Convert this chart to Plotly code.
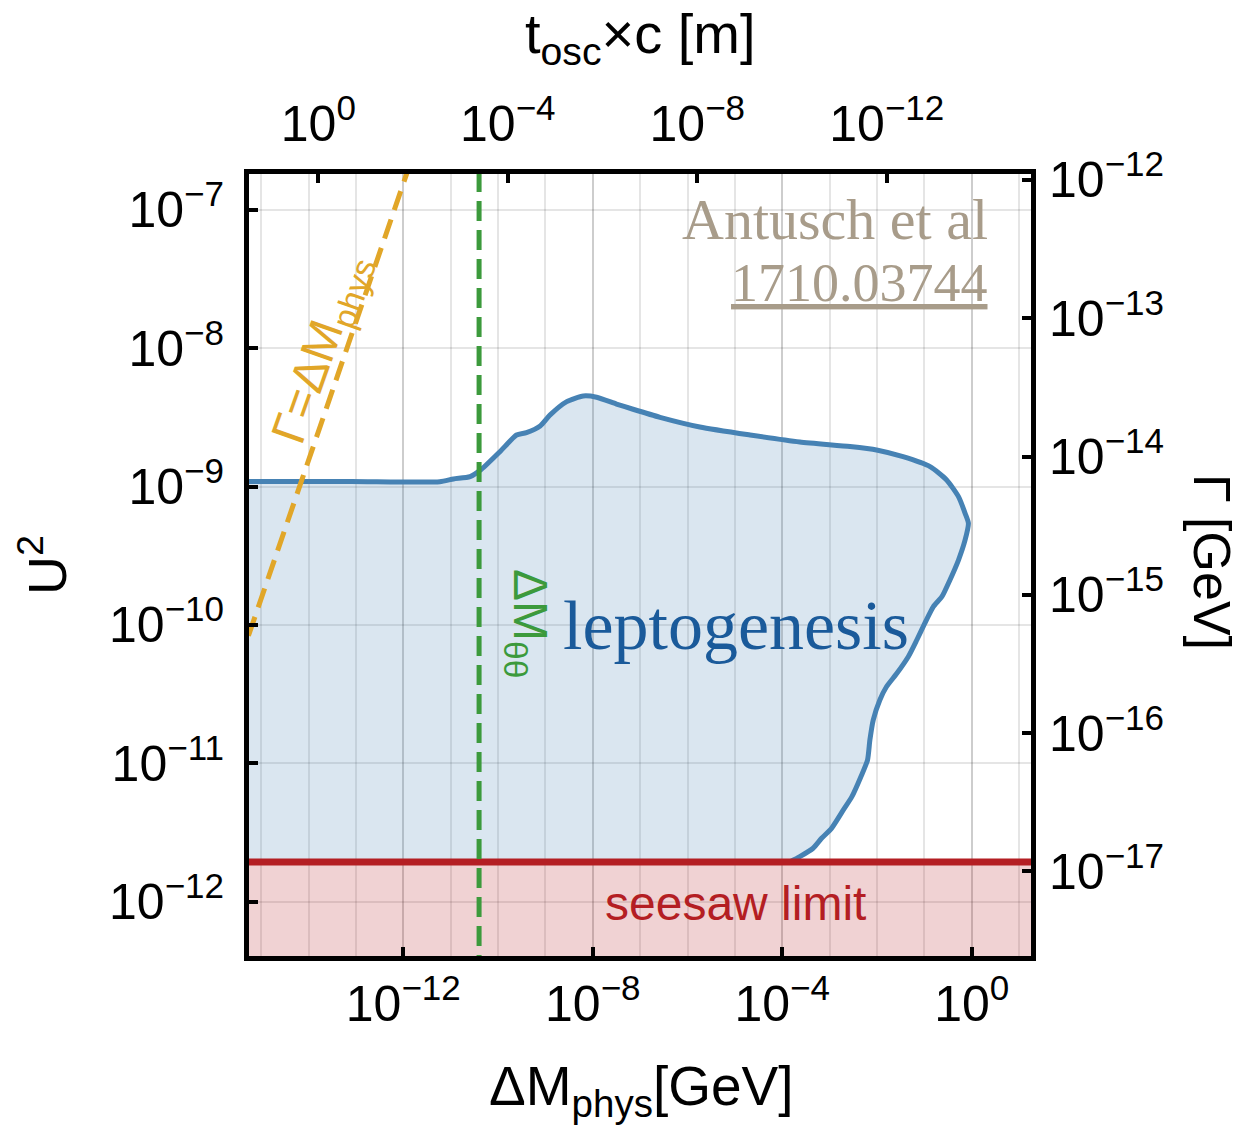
import numpy as np
import plotly.graph_objects as go

# ---------------- data (log10 values) ----------------
# leptogenesis region boundary: log10(DeltaM_phys/GeV), log10(U^2)
lepto_log_dm = [-15.5, -13.1, -11.23, -10.94, -10.59, -10.35, -9.96, -9.61, -9.40, -9.11,
                -8.90, -8.55, -8.20, -7.92, -7.50, -7.15, -6.58, -5.74, -4.68, -3.63,
                -2.57, -2.01, -1.45, -0.88, -0.53, -0.28, -0.14, -0.07, -0.14, -0.28,
                -0.46, -0.63, -0.81, -0.99, -1.16, -1.34, -1.58, -1.80, -1.94, -2.08,
                -2.15, -2.20, -2.34, -2.53, -2.71, -2.96, -3.17, -3.35, -3.63, -3.84]
lepto_log_u2 = [-8.963, -8.963, -8.965, -8.945, -8.928, -8.875, -8.748, -8.627, -8.610, -8.562,
                -8.482, -8.386, -8.345, -8.354, -8.403, -8.441, -8.499, -8.569, -8.627, -8.678,
                -8.711, -8.735, -8.784, -8.856, -8.952, -9.073, -9.193, -9.265, -9.386, -9.531,
                -9.675, -9.796, -9.868, -9.988, -10.109, -10.230, -10.350, -10.447, -10.543, -10.688,
                -10.832, -10.977, -11.098, -11.242, -11.338, -11.471, -11.543, -11.615, -11.676, -11.714]

seesaw_log_u2 = -11.714           # seesaw limit on U^2
dm_thetatheta_log = -10.40        # DeltaM_theta-theta (vertical dashed)
gamma_line_log_dm = [-16.5, -11.0]  # Gamma = DeltaM line
gamma_line_log_u2 = [-11.31, -5.81]

x_tickvals_log = [-12, -8, -4, 0]
x2_tickvals_log = [0, -4, -8, -12]
y_tickvals_log = [-12, -11, -10, -9, -8, -7]
y2_tickvals_log = [-17, -16, -15, -14, -13, -12]

# axis ranges (log10)
x_range = [-15.257, 1.251]
x2_range = [1.463, -15.045]
y_range = [-12.394, -6.740]
y2_range = [-17.611, -11.957]

# ---------------- styling ----------------
SANS = "Liberation Sans, Arial, Helvetica, sans-serif"
SERIF = "Liberation Serif, Times New Roman, serif"
BLUE = "#4682B4"
BLUE_FILL = "rgba(70,130,180,0.2)"
RED = "#B41E23"
RED_FILL = "rgba(180,30,35,0.2)"
GREEN = "#3C9A3C"
ORANGE = "#E1A628"
GRID = "rgba(0,0,0,0.10)"
TICKSIZE = 50


def sup_label(e):
    s = str(e).replace("-", "\u2212")
    return f"10<sup>{s}</sup>"


dm = 10.0 ** np.array(lepto_log_dm)
u2 = 10.0 ** np.array(lepto_log_u2)
seesaw = 10.0 ** seesaw_log_u2
left_far = 10.0 ** -16.5
right_far = 10.0 ** 2.5

fig = go.Figure()

# seesaw limit fill
fig.add_trace(go.Scatter(
    x=[left_far, right_far, right_far, left_far, left_far],
    y=[seesaw, seesaw, 1e-14, 1e-14, seesaw],
    mode="lines", fill="toself", fillcolor=RED_FILL, line=dict(width=0),
    hoverinfo="skip", showlegend=False))

# leptogenesis fill
poly_x = list(dm) + [left_far, left_far]
poly_y = list(u2) + [seesaw, u2[0]]
fig.add_trace(go.Scatter(
    x=poly_x, y=poly_y, mode="lines", fill="toself", fillcolor=BLUE_FILL,
    line=dict(width=0), hoverinfo="skip", showlegend=False))

# leptogenesis boundary
fig.add_trace(go.Scatter(
    x=dm, y=u2, mode="lines", line=dict(color=BLUE, width=5, shape="spline", smoothing=0.6),
    hoverinfo="skip", showlegend=False))

# seesaw line
fig.add_trace(go.Scatter(
    x=[left_far, right_far], y=[seesaw, seesaw], mode="lines",
    line=dict(color=RED, width=7), hoverinfo="skip", showlegend=False))

# Gamma = DeltaM line
fig.add_trace(go.Scatter(
    x=10.0 ** np.array(gamma_line_log_dm), y=10.0 ** np.array(gamma_line_log_u2),
    mode="lines", line=dict(color=ORANGE, width=5, dash="20px,10px"),
    hoverinfo="skip", showlegend=False))

# DeltaM_theta theta vertical line
fig.add_trace(go.Scatter(
    x=[10.0 ** dm_thetatheta_log] * 2, y=[1e-14, 1e-5], mode="lines",
    line=dict(color=GREEN, width=5, dash="20px,9px"),
    hoverinfo="skip", showlegend=False))

# invisible traces to activate the secondary axes
fig.add_trace(go.Scatter(x=[1e-2, 1e-6], y=[1e-9, 1e-9], xaxis="x2", yaxis="y",
                         mode="lines", line=dict(width=0), hoverinfo="skip", showlegend=False))
fig.add_trace(go.Scatter(x=[1e-6, 1e-6], y=[1e-15, 1e-14], xaxis="x", yaxis="y2",
                         mode="lines", line=dict(width=0), hoverinfo="skip", showlegend=False))

tickfont = dict(family=SANS, size=TICKSIZE, color="black")
common = dict(type="log", showline=True, linecolor="black", linewidth=5,
              ticks="inside", ticklen=9, tickwidth=4, tickcolor="black",
              tickfont=tickfont, zeroline=False)

fig.update_layout(
    width=1245, height=1132,
    margin=dict(l=249, r=1245 - 1031, t=174, b=1132 - 956),
    paper_bgcolor="white", plot_bgcolor="white",
    showlegend=False,
    xaxis=dict(**common, range=x_range, mirror=True,
               tickvals=[10.0 ** v for v in x_tickvals_log],
               ticktext=[sup_label(v) for v in x_tickvals_log],
               showgrid=True, gridcolor=GRID, gridwidth=2,
               ticklabelstandoff=0,
               minor=dict(tickvals=[10.0 ** k for k in range(-16, 2)], showgrid=True,
                          gridcolor=GRID, gridwidth=2, ticks="")),
    xaxis2=dict(**common, range=x2_range, overlaying="x", side="top", anchor="y",
                tickvals=[10.0 ** v for v in x2_tickvals_log],
                ticktext=[sup_label(v) for v in x2_tickvals_log],
                showgrid=False, ticklabelstandoff=8),
    yaxis=dict(**common, range=y_range, mirror=True,
               tickvals=[10.0 ** v for v in y_tickvals_log],
               ticktext=[sup_label(v) for v in y_tickvals_log],
               showgrid=True, gridcolor=GRID, gridwidth=2, ticklabelstandoff=10),
    yaxis2=dict(**common, range=y2_range, overlaying="y", side="right", anchor="x",
                tickvals=[10.0 ** v for v in y2_tickvals_log],
                ticktext=[sup_label(v) for v in y2_tickvals_log],
                showgrid=False, ticklabelstandoff=3),
)


def px_x(p):
    return (p - 249) / 782.0


def px_y(p):
    return (956 - p) / 782.0


def ann(text, x, y, size, color="black", family=SANS, angle=0, xanchor="center", yanchor="middle"):
    fig.add_annotation(text=text, xref="paper", yref="paper", x=px_x(x), y=px_y(y),
                       showarrow=False, textangle=angle, xanchor=xanchor, yanchor=yanchor,
                       font=dict(family=family, size=size, color=color))


ann("t<sub>osc</sub>\u00d7c [m]", 640, 38, 56)
ann("\u0394M<sub>phys</sub>[GeV]", 641, 1090, 55)
ann("U<sup>2</sup>", 43, 565, 54, angle=-90)
ann("\u0393 [GeV]", 1212, 562, 52, angle=90)

ann("\u0393=\u0394M<sub>phys</sub>", 322, 350, 48, color=ORANGE, angle=-70.5)
ann("\u0394M<sub>\u03b8\u03b8</sub>", 527, 623, 48, color=GREEN, angle=90)
ann("leptogenesis", 736, 625, 70, color="#1A5A9A", family=SERIF)
ann("seesaw limit", 735, 903, 48, color=RED)
ann("Antusch et al", 990, 219, 58, color="#A89C8A", family=SERIF, xanchor="right")
ann("<u>1710.03744</u>", 990, 283, 54, color="#A89C8A", family=SERIF, xanchor="right")

fig.write_html("out.html")
